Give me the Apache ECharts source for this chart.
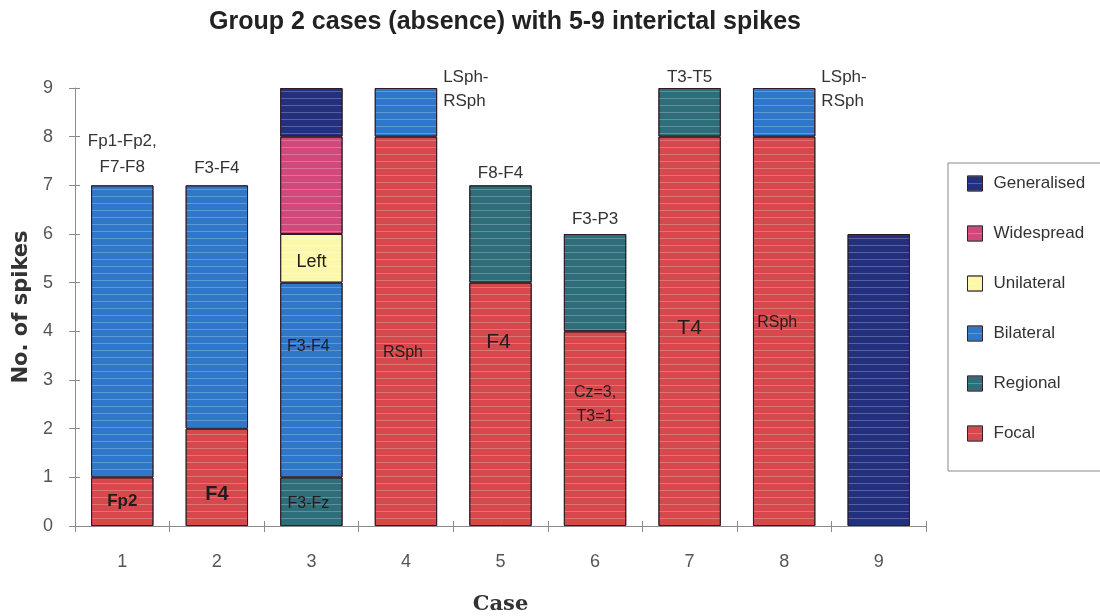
<!DOCTYPE html>
<html>
<head>
<meta charset="utf-8">
<title>Group 2 cases (absence) with 5-9 interictal spikes</title>
<script src="https://cdn.jsdelivr.net/npm/echarts@6/dist/echarts.min.js"></script>
<style>
  html, body { margin: 0; padding: 0; background: #ffffff; }
  #chart { width: 1100px; height: 616px; }
</style>
</head>
<body>
<div id="chart"></div>
<script>
// ---- data ----
const cases = ['1', '2', '3', '4', '5', '6', '7', '8', '9'];

// spikes per case, by spike distribution type (bottom of stack first)
const focal       = [1, 2, 0, 8, 5, 4, 8, 8, 0];
const regional    = [0, 0, 1, 0, 2, 2, 1, 0, 0];
const bilateral   = [6, 5, 4, 1, 0, 0, 0, 1, 0];
const unilateral  = [0, 0, 1, 0, 0, 0, 0, 0, 0];
const widespread  = [0, 0, 2, 0, 0, 0, 0, 0, 0];
const generalised = [0, 0, 1, 0, 0, 0, 0, 0, 6];

// electrode labels written inside segments
const focalText      = ['Fp2', 'F4', '', 'RSph', 'F4', 'Cz=3,\nT3=1', 'T4', 'RSph', ''];
const regionalText   = ['', '', 'F3-Fz', '', '', '', '', '', ''];
const bilateralText  = ['', '', 'F3-F4', '', '', '', '', '', ''];
const unilateralText = ['', '', 'Left', '', '', '', '', '', ''];

// electrode labels written above each bar
const topText = ['Fp1-Fp2,\nF7-F8', 'F3-F4', '', 'LSph-\nRSph', 'F8-F4', 'F3-P3', 'T3-T5', 'LSph-\nRSph', ''];

const yTicks = [0, 1, 2, 3, 4, 5, 6, 7, 8, 9];

// ---- styling ----
const FONT = '"Liberation Sans", Arial, sans-serif';
const AXIS_GREY = '#8a8a8a';

const seriesDefs = [
  { name: 'Focal',       values: focal,       text: focalText,      color: '#d6484c' },
  { name: 'Regional',    values: regional,    text: regionalText,   color: '#2d6e7a' },
  { name: 'Bilateral',   values: bilateral,   text: bilateralText,  color: '#2f78c9' },
  { name: 'Unilateral',  values: unilateral,  text: unilateralText, color: '#fcf8aa' },
  { name: 'Widespread',  values: widespread,  text: null,           color: '#d3487b' },
  { name: 'Generalised', values: generalised, text: null,           color: '#23307e' }
];

// per-label tweaks for the in-bar text (keyed "series|case index")
const innerStyle = {
  'Focal|0':      { fontSize: 17, fontWeight: 'bold', offset: [0, 0] },
  'Focal|1':      { fontSize: 20, fontWeight: 'bold', offset: [0, 17] },
  'Focal|3':      { fontSize: 16, offset: [-3, 21] },
  'Focal|4':      { fontSize: 21, offset: [-2, -62] },
  'Focal|5':      { fontSize: 16, offset: [0, -24], lineHeight: 24 },
  'Focal|6':      { fontSize: 21, offset: [0, -3] },
  'Focal|7':      { fontSize: 16, offset: [-7, -9] },
  'Regional|2':   { fontSize: 16, offset: [-3, 2] },
  'Bilateral|2':  { fontSize: 16, offset: [-3, -33] },
  'Unilateral|2': { fontSize: 18, offset: [0, 4] }
};

// per-case placement of the text above the bars
const topStyle = {
  0: { distance: 5, lineHeight: 26 },
  1: { distance: 5 },
  3: { side: true },
  4: { distance: 0 },
  5: { distance: 3 },
  6: { distance: -1 },
  7: { side: true }
};

const stripes = {
  symbol: 'rect',
  symbolSize: 1,
  dashArrayX: [[10, 0]],
  dashArrayY: [1, 6],
  color: 'rgba(255,255,255,0.24)'
};

// index of the topmost non-empty series for every case
const topSeries = cases.map((_, i) => {
  let top = -1;
  seriesDefs.forEach((s, k) => { if (s.values[i]) top = k; });
  return top;
});

const series = seriesDefs.map((s, k) => ({
  name: s.name,
  type: 'bar',
  stack: 'spikes',
  barWidth: '66%',
  itemStyle: {
    color: s.color,
    borderColor: 'rgba(45,25,35,0.9)',
    borderWidth: 1,
    decal: stripes
  },
  emphasis: { disabled: true },
  data: s.values.map((v, i) => {
    if (!v) return null;
    const item = { value: v };
    const inner = s.text ? s.text[i] : '';
    if (inner) {
      const st = innerStyle[s.name + '|' + i] || {};
      item.label = {
        show: true,
        position: 'inside',
        formatter: inner,
        color: '#241c1c',
        fontFamily: FONT,
        fontSize: st.fontSize || 16,
        fontWeight: st.fontWeight || 'normal',
        lineHeight: st.lineHeight,
        offset: st.offset || [0, 0]
      };
    } else if (topSeries[i] === k && topText[i]) {
      const st = topStyle[i] || {};
      const base = {
        show: true,
        formatter: topText[i],
        color: '#333333',
        fontFamily: FONT,
        fontSize: 17,
        lineHeight: st.lineHeight || 24
      };
      if (st.side) {
        Object.assign(base, {
          position: ['100%', 0],
          align: 'left',
          verticalAlign: 'top',
          offset: [6, -23]
        });
      } else {
        Object.assign(base, { position: 'top', distance: st.distance || 0 });
      }
      item.label = base;
    }
    return item;
  })
}));

const chart = echarts.init(document.getElementById('chart'), null, { renderer: 'canvas' });

chart.setOption({
  backgroundColor: '#ffffff',
  animation: false,
  title: {
    text: 'Group 2 cases (absence) with 5-9 interictal spikes',
    left: 500,
    textAlign: 'center',
    top: 5,
    textStyle: { fontFamily: FONT, fontSize: 25, fontWeight: 'bold', color: '#222222' }
  },
  legend: {
    orient: 'vertical',
    left: 948,
    top: 163,
    data: ['Generalised', 'Widespread', 'Unilateral', 'Bilateral', 'Regional', 'Focal'],
    icon: 'rect',
    itemWidth: 15,
    itemHeight: 15,
    itemGap: 33,
    padding: [12, 60, 29, 19],
    borderColor: '#8a8a8a',
    borderWidth: 1,
    selectedMode: false,
    itemStyle: { borderColor: 'rgba(45,25,35,0.8)', borderWidth: 1 },
    textStyle: { fontFamily: FONT, fontSize: 17, color: '#333333', lineHeight: 15, padding: [0, 0, 0, 6] }
  },
  grid: { left: 75, right: 174, top: 88, bottom: 90, outerBoundsMode: 'none', containLabel: false },
  xAxis: [{
    type: 'category',
    data: cases,
    name: 'Case',
    nameLocation: 'middle',
    nameGap: 68,
    nameTextStyle: { fontFamily: '"DejaVu Serif", "Liberation Serif", serif', fontSize: 21, fontWeight: 'bold', color: '#333333' },
    axisLine: { lineStyle: { color: AXIS_GREY, width: 1 } },
    axisTick: { show: true, length: 6, lineStyle: { color: AXIS_GREY } },
    axisLabel: { fontFamily: FONT, fontSize: 18, color: '#555555', margin: 27 }
  }, {
    // inner half of the crossing tick marks
    type: 'category',
    data: cases,
    position: 'bottom',
    axisLine: { show: false },
    axisTick: { show: true, inside: true, length: 5, lineStyle: { color: AXIS_GREY } },
    axisLabel: { show: false },
    splitLine: { show: false }
  }],
  yAxis: [{
    type: 'value',
    min: yTicks[0],
    max: yTicks[yTicks.length - 1],
    interval: 1,
    name: 'No. of spikes',
    nameLocation: 'middle',
    nameGap: 43,
    nameTextStyle: { fontFamily: '"DejaVu Sans", sans-serif', fontSize: 21, fontWeight: 'bold', color: '#333333' },
    axisLine: { show: true, lineStyle: { color: AXIS_GREY, width: 1 } },
    axisTick: { show: true, length: 6, lineStyle: { color: AXIS_GREY } },
    splitLine: { show: false },
    axisLabel: { fontFamily: FONT, fontSize: 18, color: '#555555', margin: 22 }
  }, {
    // inner half of the crossing tick marks
    type: 'value',
    min: yTicks[0],
    max: yTicks[yTicks.length - 1],
    interval: 1,
    position: 'left',
    axisLine: { show: false },
    axisTick: { show: true, inside: true, length: 5, lineStyle: { color: AXIS_GREY } },
    axisLabel: { show: false },
    splitLine: { show: false }
  }],
  series: series
});
</script>
</body>
</html>
